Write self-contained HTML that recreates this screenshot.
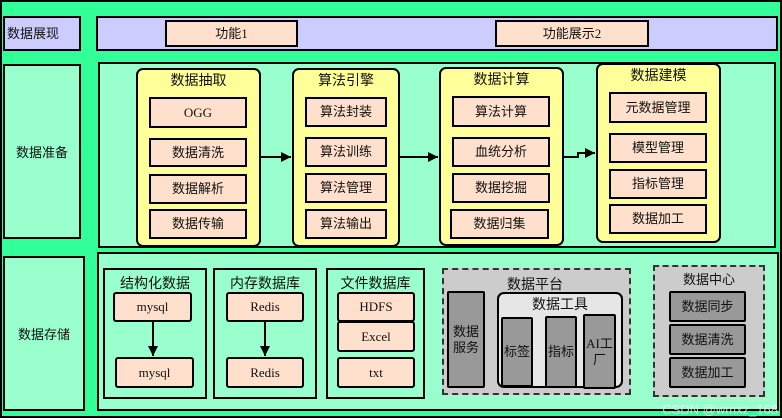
<!DOCTYPE html>
<html><head><meta charset="utf-8"><style>
*{box-sizing:border-box;margin:0;padding:0}
body{width:782px;height:420px;overflow:hidden;background:#fff;font-family:"Liberation Serif","Noto Sans CJK SC",sans-serif}
#c{position:absolute;left:0;top:0;width:782px;height:418px;background:#33ff99;border:2px solid #000}
.b{position:absolute;border:2px solid #000;display:flex;align-items:center;justify-content:center;font-size:13px;color:#111;text-align:center;line-height:1.2}
.lab{background:#99ffcc;font-family:"Noto Sans CJK SC",sans-serif}
.p{background:#ffe0cc;font-family:"Liberation Serif","Noto Sans CJK SC",sans-serif}
.y{background:#ffff99;border-radius:7px;align-items:flex-start;padding-top:4px;font-size:14px}
.g{background:#99ffcc}
.t{position:absolute;font-size:14px;text-align:center;color:#111}
.d{background:#cccccc;border:2px dashed #333;align-items:flex-start;padding-top:5px}
.gr{background:#999;border-radius:2px}
svg{position:absolute;left:0;top:0}
</style></head><body><div id="c"></div>
<div class="b" style="left:3px;top:16px;width:78px;height:35px;background:#ccccff;justify-content:flex-start;padding-left:2px">数据展现</div>
<div class="b" style="left:96px;top:16px;width:682px;height:35px;background:#ccccff"></div>
<div class="b p" style="left:165px;top:20px;width:133px;height:27px">功能1</div>
<div class="b p" style="left:495px;top:20px;width:154px;height:27px">功能展示2</div>

<div class="b lab" style="left:3px;top:64px;width:78px;height:175px">数据准备</div>
<div class="b g" style="left:98px;top:62px;width:678px;height:186px"></div>
<div class="b y" style="left:136px;top:68px;width:125px;height:179px">数据抽取</div>
<div class="b p" style="left:149px;top:97px;width:98px;height:31px">OGG</div>
<div class="b p" style="left:149px;top:138px;width:98px;height:29px">数据清洗</div>
<div class="b p" style="left:149px;top:174px;width:98px;height:30px">数据解析</div>
<div class="b p" style="left:149px;top:209px;width:98px;height:30px">数据传输</div>
<div class="b y" style="left:292px;top:68px;width:108px;height:179px">算法引擎</div>
<div class="b p" style="left:305px;top:97px;width:82px;height:30px">算法封装</div>
<div class="b p" style="left:305px;top:137px;width:82px;height:30px">算法训练</div>
<div class="b p" style="left:305px;top:173px;width:82px;height:30px">算法管理</div>
<div class="b p" style="left:305px;top:209px;width:82px;height:30px">算法输出</div>
<div class="b y" style="left:439px;top:67px;width:125px;height:179px">数据计算</div>
<div class="b p" style="left:452px;top:96px;width:98px;height:31px">算法计算</div>
<div class="b p" style="left:452px;top:137px;width:98px;height:30px">血统分析</div>
<div class="b p" style="left:452px;top:173px;width:98px;height:30px">数据挖掘</div>
<div class="b p" style="left:450px;top:209px;width:99px;height:30px">数据归集</div>
<div class="b y" style="left:596px;top:63px;width:125px;height:180px">数据建模</div>
<div class="b p" style="left:609px;top:92px;width:98px;height:31px">元数据管理</div>
<div class="b p" style="left:609px;top:133px;width:98px;height:30px">模型管理</div>
<div class="b p" style="left:609px;top:169px;width:98px;height:30px">指标管理</div>
<div class="b p" style="left:609px;top:204px;width:98px;height:30px">数据加工</div>

<div class="b lab" style="left:3px;top:256px;width:82px;height:155px">数据存储</div>
<div class="b g" style="left:97px;top:252px;width:682px;height:159px"></div>
<div class="b g" style="left:103px;top:268px;width:104px;height:131px"></div>
<div class="t" style="left:103px;top:273px;width:104px">结构化数据</div>
<div class="b p" style="left:113px;top:292px;width:79px;height:30px;border-radius:3px">mysql</div>
<div class="b p" style="left:115px;top:357px;width:79px;height:31px;border-radius:3px">mysql</div>
<div class="b g" style="left:213px;top:268px;width:104px;height:131px"></div>
<div class="t" style="left:213px;top:273px;width:104px">内存数据库</div>
<div class="b p" style="left:226px;top:292px;width:78px;height:30px;border-radius:3px">Redis</div>
<div class="b p" style="left:226px;top:357px;width:78px;height:31px;border-radius:3px">Redis</div>
<div class="b g" style="left:326px;top:268px;width:99px;height:131px"></div>
<div class="t" style="left:326px;top:273px;width:99px">文件数据库</div>
<div class="b p" style="left:337px;top:292px;width:78px;height:30px;border-radius:3px">HDFS</div>
<div class="b p" style="left:337px;top:321px;width:78px;height:31px;border-radius:3px">Excel</div>
<div class="b p" style="left:337px;top:357px;width:78px;height:31px;border-radius:3px">txt</div>

<div class="b d" style="left:442px;top:268px;width:189px;height:127px"></div>
<div class="t" style="left:500px;top:274px;width:70px">数据平台</div>
<div class="b gr" style="left:447px;top:291px;width:38px;height:97px">数据<br>服务</div>
<div class="b" style="left:497px;top:292px;width:126px;height:96px;background:#e6e6e6;border-radius:7px;align-items:flex-start;padding-top:4px;font-size:14px">数据工具</div>
<div class="b gr" style="left:501px;top:317px;width:32px;height:70px">标签</div>
<div class="b gr" style="left:545px;top:316px;width:32px;height:72px">指标</div>
<div class="b gr" style="left:583px;top:314px;width:33px;height:75px">AI工<br>厂</div>
<div class="b d" style="left:653px;top:265px;width:112px;height:132px;justify-content:center">数据中心</div>
<div class="b gr" style="left:669px;top:291px;width:77px;height:31px">数据同步</div>
<div class="b gr" style="left:669px;top:324px;width:77px;height:31px">数据清洗</div>
<div class="b gr" style="left:669px;top:357px;width:77px;height:31px">数据加工</div>

<svg width="782" height="420">
<defs><marker id="a" viewBox="0 0 10 10" refX="10" refY="5" markerWidth="5" markerHeight="5" orient="auto"><path d="M0,0L10,5L0,10z"/></marker></defs>
<g stroke="#000" stroke-width="2" fill="none" marker-end="url(#a)">
<path d="M261,157H291"/><path d="M400,157H438"/>
<path d="M564,157H578V153H582V153H595"/>
<path d="M153,322V356"/><path d="M265,322V356"/>
</g>
<text x="778" y="414" font-size="13" fill="#fff" fill-opacity="0.7" text-anchor="end" font-family="Liberation Sans,sans-serif">CSDN @wmxz_168</text>
</svg>
</body></html>
